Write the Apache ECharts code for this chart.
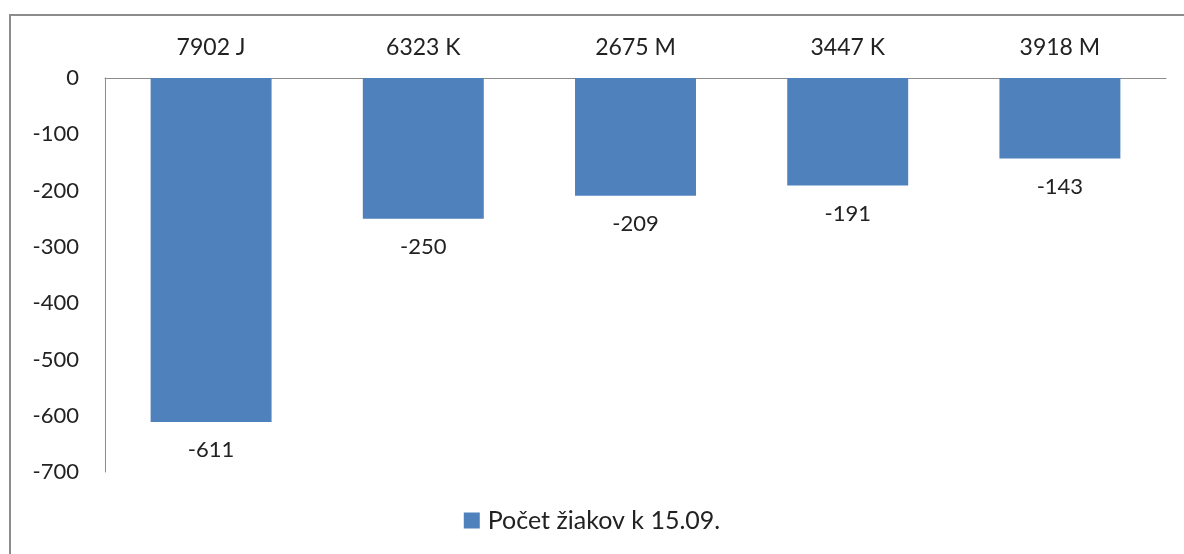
<!DOCTYPE html>
<html>
<head>
<meta charset="utf-8">
<script src="https://cdn.jsdelivr.net/npm/echarts@6/dist/echarts.min.js"></script>
<style>
    html, body { margin: 0; padding: 0; background: #fff; }
    #chart { width: 1184px; height: 554px; }
    .frame {
        position: absolute; left: 9px; top: 14px;
        width: 1200px; height: 600px;
        border: 2px solid #8c8c8c; box-sizing: border-box;
    }
</style>
</head>
<body>
<div class="frame"></div>
<div id="chart" style="position:absolute;left:0;top:0;"></div>
<script>
// chart values
const categories = ["7902 J", "6323 K", "2675 M", "3447 K", "3918 M"];
const seriesName = "Počet žiakov k 15.09.";
const values = [-611, -250, -209, -191, -143];

const chart = echarts.init(document.getElementById("chart"), null, { renderer: "canvas" });
const font = "Lato, 'Open Sans', sans-serif";

chart.setOption({
    animation: false,
    grid: {
        left: 105,
        right: 18,
        top: 78,
        bottom: 82,
    },
    legend: {
        bottom: 16,
        left: "center",
        itemWidth: 16,
        itemHeight: 16,
        icon: "rect",
        textStyle: { fontFamily: font, fontSize: 25, color: "#222", padding: [0, 0, 0, 3] },
        data: [seriesName],
    },
    xAxis: {
        type: "category",
        position: "top",
        data: categories,
        axisLine: { lineStyle: { color: "#8c8c8c", width: 1 } },
        axisTick: { show: false },
        axisLabel: { fontFamily: font, fontSize: 23, color: "#222", margin: 19 },
    },
    yAxis: {
        type: "value",
        min: -700,
        max: 0,
        interval: 100,
        axisLine: { show: true, lineStyle: { color: "#8c8c8c", width: 1 } },
        axisTick: { show: false },
        splitLine: { show: false },
        axisLabel: { fontFamily: font, fontSize: 22, color: "#222", margin: 26 },
    },
    series: [
        {
            name: seriesName,
            type: "bar",
            data: values,
            barWidth: "57%",
            itemStyle: { color: "#4f81bd" },
            label: {
                show: true,
                position: "bottom",
                distance: 17,
                fontFamily: font,
                fontSize: 22,
                color: "#222",
            },
        },
    ],
});
</script>
</body>
</html>
